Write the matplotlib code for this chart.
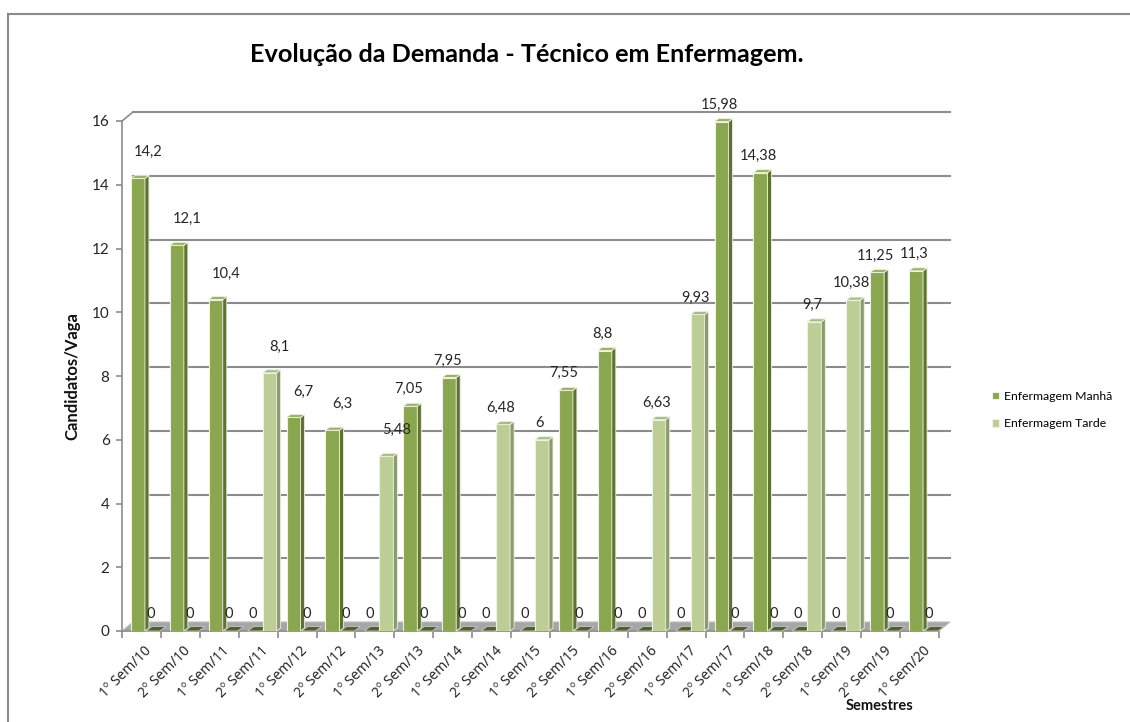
import numpy as np
import matplotlib.pyplot as plt
from matplotlib.patches import Polygon
from matplotlib.lines import Line2D

plt.rcParams['font.family'] = ['Lato', 'DejaVu Sans']

# ---- data ----
semestres = ['1º Sem/10', '2º Sem/10', '1º Sem/11', '2º Sem/11', '1º Sem/12',
             '2º Sem/12', '1º Sem/13', '2º Sem/13', '1º Sem/14', '2º Sem/14',
             '1º Sem/15', '2º Sem/15', '1º Sem/16', '2º Sem/16', '1º Sem/17',
             '2º Sem/17', '1º Sem/18', '2º Sem/18', '1º Sem/19', '2º Sem/19',
             '1º Sem/20']
manha = [14.2, 12.1, 10.4, 0, 6.7, 6.3, 0, 7.05, 7.95, 0, 0,
         7.55, 8.8, 0, 0, 15.98, 14.38, 0, 0, 11.25, 11.3]
tarde = [0, 0, 0, 8.1, 0, 0, 5.48, 0, 0, 6.48, 6,
         0, 0, 6.63, 9.93, 0, 0, 9.7, 10.38, 0, 0]
series_names = ['Enfermagem Manhã', 'Enfermagem Tarde']
yticks = [0, 2, 4, 6, 8, 10, 12, 14, 16]

W, H = 1130, 722
fig = plt.figure(figsize=(W / 100, H / 100), dpi=100)

# front plane of the pseudo-3D plot
ax_l, ax_r, ax_t, ax_b = 122, 939, 121, 631
ax = fig.add_axes([ax_l / W, (H - ax_b) / H, (ax_r - ax_l) / W, (ax_b - ax_t) / H])
n = len(semestres)
ax.set_xlim(0, n)
ax.set_ylim(0, 16)

# pixel -> data conversions
px_x = n / (ax_r - ax_l)
px_y = 16 / (ax_b - ax_t)
wx, wy = 11 * px_x, 9 * px_y      # back wall depth
bx, by = 4 * px_x, 3 * px_y       # bar depth

grid_col = '#8c8c8c'

# back wall grid lines
for v in yticks[1:]:
    ax.plot([wx, n + wx], [v + wy, v + wy], color=grid_col, lw=1.5, zorder=1, clip_on=False)
ax.plot([0, wx], [16, 16 + wy], color=grid_col, lw=1.2, zorder=1, clip_on=False)

# floor
ax.add_patch(Polygon([(0, 0), (n, 0), (n + wx, wy), (wx, wy)], closed=True,
                     facecolor='#a6a6a6', edgecolor='#bdbdbd', lw=0.8, zorder=2, clip_on=False))

styles = [
    dict(front='#8aa64f', side='#5d7330', top='#9ab462', zero='#4f6228', offset=0.23),
    dict(front='#bccd95', side='#8b9a6d', top='#a8bb80', zero='#4f6228', offset=0.615),
]
bw = 0.36
edge = '#eef2e2'

x = np.arange(n)
handles = []
for vals, st, name in zip([manha, tarde], styles, series_names):
    vals = np.array(vals)
    left = x + st['offset']
    bars = ax.bar(left, vals, width=bw, align='edge', color=st['front'],
                  edgecolor=edge, linewidth=0.8, zorder=3, label=name)
    handles.append(bars)
    for i, (x0, v) in enumerate(zip(left, vals)):
        x1 = x0 + bw
        if v > 0:
            ax.add_patch(Polygon([(x1, 0), (x1 + bx, by), (x1 + bx, v + by), (x1, v)],
                                 closed=True, facecolor=st['side'], edgecolor=edge,
                                 lw=0.6, zorder=3, clip_on=False))
            ax.add_patch(Polygon([(x0, v), (x1, v), (x1 + bx, v + by), (x0 + bx, v + by)],
                                 closed=True, facecolor=st['top'], edgecolor=edge,
                                 lw=0.6, zorder=3, clip_on=False))
        else:
            ax.add_patch(Polygon([(x0, 0), (x1, 0), (x1 + 1.5 * bx, 1.5 * by), (x0 + 1.5 * bx, 1.5 * by)],
                                 closed=True, facecolor=st['zero'], edgecolor='#c8c8c8',
                                 lw=0.6, zorder=3, clip_on=False))
        # data labels (Excel pushed the first ones up and to the right)
        if v > 0 and i < 7:
            dx, dy = 10, 26
        else:
            dx, dy = -2, 17
        txt = f'{v:g}'.replace('.', ',')
        ax.annotate(txt, xy=(x0 + bw / 2, v), xytext=(dx, dy), textcoords='offset pixels',
                    ha='center', va='center', fontsize=10.5, color='#262626', zorder=5,
                    annotation_clip=False)

# axes styling
for s in ['top', 'right']:
    ax.spines[s].set_visible(False)
for s in ['left', 'bottom']:
    ax.spines[s].set_color(grid_col)
    ax.spines[s].set_linewidth(1.2)
ax.spines['bottom'].set_zorder(2.5)

ax.set_yticks(yticks)
ax.set_yticklabels([str(t) for t in yticks], fontsize=11, color='#262626')
ax.tick_params(axis='y', length=4, color=grid_col, width=1.2, pad=5)

ax.set_xticks(np.arange(n + 1))
ax.set_xticklabels([])
ax.tick_params(axis='x', which='major', length=5, color=grid_col, width=1.2)
ax.set_xticks(x + 0.5 + 3 * px_x, minor=True)
ax.set_xticklabels(semestres, minor=True, rotation=45, ha='right', va='top',
                   rotation_mode='anchor', fontsize=10, color='#262626',
                   family=['Noto Sans', 'DejaVu Sans'])
ax.tick_params(axis='x', which='minor', length=0, pad=9)

ax.set_ylabel('Candidatos/Vaga', fontsize=12, fontweight='bold', color='#111111')
ax.yaxis.set_label_coords((80 - ax_l) / (ax_r - ax_l), 0.5)
ax.set_xlabel('Semestres', fontsize=10.5, fontweight='bold', color='#111111')
ax.xaxis.set_label_coords((880 - ax_l) / (ax_r - ax_l), (ax_b - 706) / (ax_b - ax_t))
ax.xaxis.label.set_va('center')

fig.text(527 / W, 1 - 55 / H, 'Evolução da Demanda - Técnico em Enfermagem.',
         ha='center', va='center', fontsize=18.2, fontweight='bold', color='#000000')

fig.legend(handles, series_names, loc='center left', bbox_to_anchor=(992 / W, 1 - 410 / H),
           frameon=False, fontsize=8.8, handlelength=0.55, handleheight=0.55,
           handletextpad=0.45, labelspacing=1.35, borderpad=0, borderaxespad=0)

# chart-area frame (only left and top edges visible in the reference)
fig.add_artist(Line2D([8 / W, 8 / W], [0, 1 - 14 / H], transform=fig.transFigure,
                      color='#8a8a8a', lw=1.5))
fig.add_artist(Line2D([8 / W, 1], [1 - 14 / H, 1 - 14 / H], transform=fig.transFigure,
                      color='#8a8a8a', lw=1.5))

fig.savefig('out.png', dpi=100)
